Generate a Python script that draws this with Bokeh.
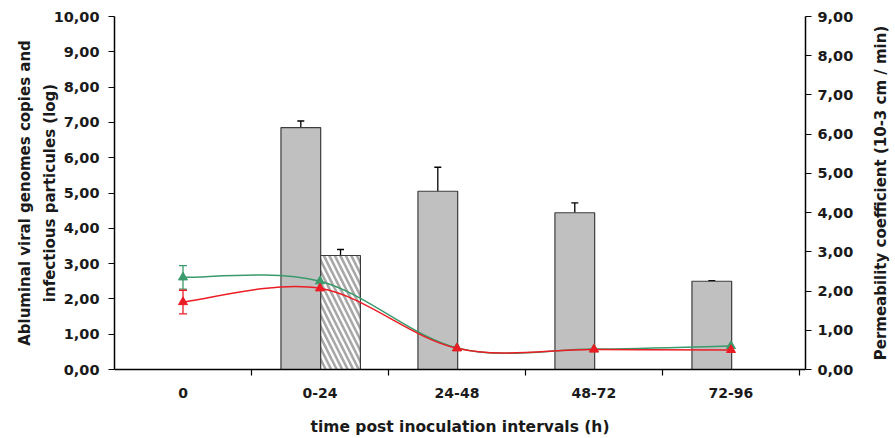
from bokeh.plotting import figure
from bokeh.layouts import row
from bokeh.models import (Range1d, LinearAxis, FixedTicker, CustomJSTickFormatter,
                          ColumnDataSource, Whisker, TeeHead)
from bokeh.embed import file_html
from bokeh.resources import INLINE

# ---------------- data ----------------
categories = ["0", "0-24", "24-48", "48-72", "72-96"]
# abluminal viral genome copies (log) - grey bars
genome_cats = [1, 2, 3, 4]
genome_log = [6.85, 5.05, 4.44, 2.50]
genome_err = [0.19, 0.68, 0.28, 0.02]
# infectious particles (log) - hatched bar
infect_cats = [1]
infect_log = [3.23]
infect_err = [0.17]
# permeability coefficient (10-3 cm/min)
perm_x = [0, 1, 2, 3, 4]
perm_green = [2.35, 2.25, 0.55, 0.52, 0.60]
perm_green_err = [0.30, 0.29, 0.0, 0.0, 0.0]
perm_red = [1.72, 2.07, 0.54, 0.51, 0.50]
perm_red_err = [0.30, 0.25, 0.0, 0.0, 0.0]

left_ticks = list(range(0, 11))
right_ticks = list(range(0, 10))
right_title = "Permeability coefficient (10-3 cm / min)"

GREEN = "#3a9a6c"
RED = "#ec1c24"
FONT = "DejaVu Sans"

p = figure(width=865, height=438, output_backend="svg", toolbar_location=None,
           x_range=Range1d(-0.5, 4.544), y_range=Range1d(0, 10),
           min_border_left=114, min_border_right=60, min_border_top=16, min_border_bottom=69)
p.extra_y_ranges = {"perm": Range1d(0, 9)}
p.outline_line_color = None
p.xgrid.visible = False
p.ygrid.visible = False
p.background_fill_color = "white"

fmt = CustomJSTickFormatter(code="return tick.toFixed(2).replace('.', ',');")

def style_axis(ax):
    ax.axis_line_color = "black"
    ax.axis_line_width = 1.5
    ax.major_tick_line_color = "black"
    ax.major_tick_line_width = 1.2
    ax.minor_tick_line_color = None
    ax.major_tick_in = 0
    ax.major_tick_out = 6
    ax.major_label_text_font = FONT
    ax.major_label_text_font_style = "bold"
    ax.major_label_text_font_size = "14.5px"
    ax.major_label_text_color = "#1a1a1a"
    ax.axis_label_text_font = FONT
    ax.axis_label_text_font_style = "bold"
    ax.axis_label_text_font_size = "15px"
    ax.axis_label_text_color = "#1a1a1a"

# left axis
yax = p.yaxis[0]
yax.ticker = FixedTicker(ticks=left_ticks)
yax.formatter = fmt
yax.axis_label = "Abluminal viral genomes copies and\ninfectious particules (log)"
style_axis(yax)
yax.axis_label_text_line_height = 1.35
yax.major_label_standoff = 9
yax.axis_label_standoff = -8

# right axis (ticks only; its title is drawn in a narrow side figure, reading upwards)
rax = LinearAxis(y_range_name="perm", ticker=FixedTicker(ticks=right_ticks), formatter=fmt)
style_axis(rax)
rax.major_label_standoff = 6
p.add_layout(rax, "right")

# x axis
xax = p.xaxis[0]
xax.ticker = FixedTicker(ticks=[0, 1, 2, 3, 4], minor_ticks=[0.5, 1.5, 2.5, 3.5, 4.5])
xax.formatter = CustomJSTickFormatter(args=dict(cats=categories),
                                      code="return cats[Math.round(tick)];")
xax.axis_label = "time post inoculation intervals (h)"
style_axis(xax)
xax.major_label_text_font_size = "14px"
xax.axis_label_text_font_size = "15.5px"
xax.major_tick_out = 0
xax.minor_tick_line_color = "black"
xax.minor_tick_line_width = 1.2
xax.minor_tick_in = 0
xax.minor_tick_out = 6
xax.major_label_standoff = 12
xax.axis_label_standoff = 17

# ---------------- bars ----------------
OFF_G, OFF_H, BW = -0.14, 0.15, 0.29
gsrc = ColumnDataSource(dict(
    x=[c + OFF_G for c in genome_cats], top=genome_log,
    upper=[v + e for v, e in zip(genome_log, genome_err)]))
p.vbar(x="x", top="top", width=BW, source=gsrc, fill_color="#c0c0c0",
       line_color="#3c3c3c", line_width=1.2)

hsrc = ColumnDataSource(dict(
    x=[c + OFF_H for c in infect_cats], top=infect_log,
    upper=[v + e for v, e in zip(infect_log, infect_err)]))
p.vbar(x="x", top="top", width=BW, source=hsrc, fill_color="white",
       hatch_pattern="\\", hatch_color="#a8a8a8", hatch_weight=2.6, hatch_scale=11,
       line_color="#3c3c3c", line_width=1.2)

for src in (gsrc, hsrc):
    w = Whisker(base="x", lower="top", upper="upper", source=src, line_color="black",
                line_width=1.3, upper_head=TeeHead(size=7, line_color="black", line_width=1.3),
                lower_head=None)
    p.add_layout(w)

# ---------------- smoothed lines ----------------
def bezier_source(xs, ys, k=1.0 / 6.0):
    n = len(xs)
    d = dict(x0=[], y0=[], x1=[], y1=[], cx0=[], cy0=[], cx1=[], cy1=[])
    for i in range(n - 1):
        xm, ym = (xs[i - 1], ys[i - 1]) if i > 0 else (xs[i], ys[i])
        xp, yp = (xs[i + 2], ys[i + 2]) if i + 2 < n else (xs[i + 1], ys[i + 1])
        d["x0"].append(xs[i]); d["y0"].append(ys[i])
        d["x1"].append(xs[i + 1]); d["y1"].append(ys[i + 1])
        d["cx0"].append(xs[i] + (xs[i + 1] - xm) * k)
        d["cy0"].append(ys[i] + (ys[i + 1] - ym) * k)
        d["cx1"].append(xs[i + 1] - (xp - xs[i]) * k)
        d["cy1"].append(ys[i + 1] - (yp - ys[i]) * k)
    return ColumnDataSource(d)

for vals, errs, col in ((perm_green, perm_green_err, GREEN), (perm_red, perm_red_err, RED)):
    p.bezier(x0="x0", y0="y0", x1="x1", y1="y1", cx0="cx0", cy0="cy0", cx1="cx1", cy1="cy1",
             source=bezier_source(perm_x, vals), y_range_name="perm",
             line_color=col, line_width=1.5)
    esrc = ColumnDataSource(dict(
        x=[x for x, e in zip(perm_x, errs) if e > 0],
        lower=[v - e for v, e in zip(vals, errs) if e > 0],
        upper=[v + e for v, e in zip(vals, errs) if e > 0]))
    p.add_layout(Whisker(base="x", lower="lower", upper="upper", source=esrc,
                         y_range_name="perm", line_color=col, line_width=1.3,
                         upper_head=TeeHead(size=8, line_color=col, line_width=1.3),
                         lower_head=TeeHead(size=8, line_color=col, line_width=1.3)))
    p.scatter(x=perm_x, y=vals, marker="triangle", size=9, fill_color=col, line_color=col,
              y_range_name="perm")

# ---------------- narrow side figure carrying the right title ----------------
side = figure(width=30, height=438, output_backend="svg", toolbar_location=None,
              x_range=Range1d(0, 1), y_range=Range1d(0, 9),
              min_border_left=24, min_border_right=0, min_border_top=16, min_border_bottom=69)
side.outline_line_color = None
side.xgrid.visible = False
side.ygrid.visible = False
side.xaxis.visible = False
sax = side.yaxis[0]
sax.ticker = FixedTicker(ticks=[])
sax.axis_line_color = None
sax.major_tick_line_color = None
sax.minor_tick_line_color = None
sax.major_tick_out = 0
sax.major_label_standoff = 0
sax.axis_label = right_title
sax.axis_label_standoff = 0
sax.axis_label_text_font = FONT
sax.axis_label_text_font_style = "bold"
sax.axis_label_text_font_size = "15px"
sax.axis_label_text_color = "#1a1a1a"

layout = row(p, side, spacing=0)
open("out.html", "w").write(file_html(layout, INLINE))
